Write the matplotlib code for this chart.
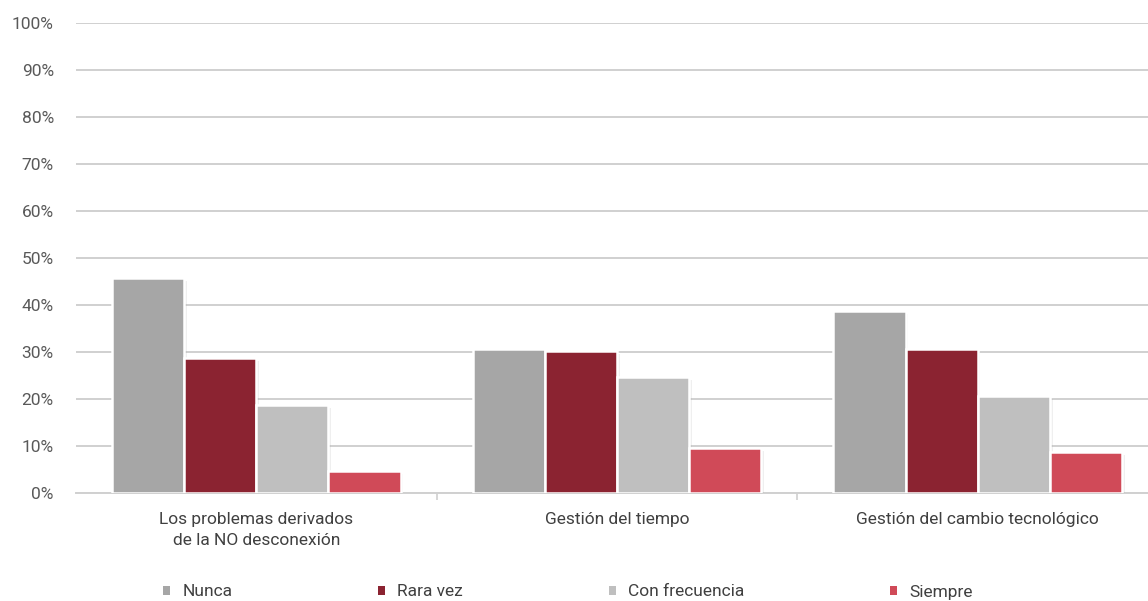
import numpy as np
import matplotlib.pyplot as plt
from matplotlib import patheffects as pe
from matplotlib.ticker import FuncFormatter

categories = ["Los problemas derivados\nde la NO desconexión",
              "Gestión del tiempo",
              "Gestión del cambio tecnológico"]
series = ["Nunca", "Rara vez", "Con frecuencia", "Siempre"]
nunca = [45.7, 30.6, 38.7]
rara_vez = [28.7, 30.2, 30.6]
con_frecuencia = [18.7, 24.7, 20.6]
siempre = [4.7, 9.6, 8.7]
colors = ["#A6A6A6", "#8B2331", "#BFBFBF", "#D04A58"]

plt.rcParams["font.family"] = ["Roboto", "DejaVu Sans"]

fig = plt.figure(figsize=(11.48, 6.01), dpi=100)
W, H = 1148, 601
# axes spans the plot area; right edge runs slightly past the figure
ax = fig.add_axes([76 / W, 1 - 493 / H, (1158 - 76) / W, (493 - 23) / H])

x = np.arange(len(categories))
width = 0.2
shadow = [pe.SimplePatchShadow(offset=(2, -2), shadow_rgbFace="#aaaaaa", alpha=0.18), pe.Normal()]
handles = []
for i, (vals, name) in enumerate(zip([nunca, rara_vez, con_frecuencia, siempre], series)):
    bars = ax.bar(x + (i - 1.5) * width, vals, width, color=colors[i],
                  edgecolor="white", linewidth=1.8, label=name, zorder=3)
    for b in bars:
        b.set_path_effects(shadow)
    handles.append(bars)

ax.set_xlim(-0.5, 2.5)
ax.set_ylim(0, 100)
ax.set_yticks(np.arange(0, 101, 10))
ax.yaxis.set_major_formatter(FuncFormatter(lambda v, _: f"{int(v)}%"))
ax.grid(axis="y", color="#D0D0D0", linewidth=1.4, zorder=0)
ax.tick_params(axis="y", length=0, pad=16, labelsize=12.5, labelcolor="#595959")

# category labels centred, tick marks on the group boundaries
ax.set_xticks(x)
ax.set_xticklabels(categories, fontsize=12.5, color="#404040", linespacing=1.45)
ax.tick_params(axis="x", which="major", length=0, pad=14)
ax.set_xticks([0.5, 1.5], minor=True)
ax.tick_params(axis="x", which="minor", length=5, color="#D0D0D0", width=1.2)

for s in ["top", "right", "left"]:
    ax.spines[s].set_visible(False)
ax.spines["bottom"].set_color("#D0D0D0")
ax.spines["bottom"].set_linewidth(1.4)

leg = fig.legend(handles=handles, labels=series, loc="center", ncol=4,
                 bbox_to_anchor=(568 / W, 1 - 592 / H), frameon=False,
                 fontsize=12.5, handlelength=0.4, handleheight=0.4,
                 handletextpad=0.7, columnspacing=8.4, labelcolor="#404040")
for h in leg.legend_handles:
    h.set_path_effects([])
    h.set_linewidth(0)

fig.savefig("out.png", dpi=100)
